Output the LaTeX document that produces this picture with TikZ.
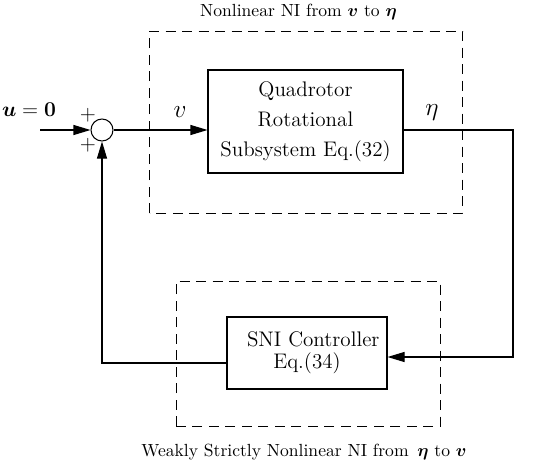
\documentclass[tikz,border=0pt]{standalone}
\usepackage{amsmath}
\usepackage{amssymb}
\usepackage{bm}
\usepackage{tikz}
\usetikzlibrary{arrows.meta}

\begin{document}
\begin{tikzpicture}[line width=0.6pt,
            blockbox/.style={draw, align=center, font=\large, inner sep=0pt},
            ghostbox/.style={draw, dash pattern=on 2mm off 1.3mm, line width=0.5pt},
            sig/.style={-{Triangle[length=3.4mm,width=2mm]}}]
            \useasboundingbox (0,0) rectangle (11,9.34);
            % blocks
            \node[draw, circle, minimum size=0.44cm, inner sep=0pt] (sum) at (2.04,6.74) {};
            \node[blockbox, minimum width=3.9cm, minimum height=2.06cm] (quad) at (6.11,6.91) {Quadrotor\\[3pt] Rotational\\[3pt] Subsystem Eq.(32)};
            \node[blockbox, minimum width=3.2cm, minimum height=1.44cm] (ctrl) at (6.14,2.28) {\hspace{0.25cm}SNI Controller\\[-1.5pt] Eq.(34)};
            % dashed frames
            \draw[ghostbox] (2.99,5.08) rectangle (9.25,8.72);
            \draw[ghostbox] (3.52,0.82) rectangle (8.8,3.72);
            \node (nitop) at (5.97,9.1) {Nonlinear NI from $\bm{v}$ to $\bm{\eta}$};
            \node (nibot) at (6.08,0.3) {Weakly Strictly Nonlinear NI from\, $\bm{\eta}$ to $\bm{v}$};
            % signals
            \coordinate (in) at (0.8,6.74);
            \coordinate (back) at (10.26,2.2);
            \coordinate (fb) at (2.04,2.08);
            \draw[sig] (in) -- (sum.west);
            \draw[sig] (sum.east) -- (sum -| quad.west);
            \draw[sig] (sum -| quad.east) -| (back) -- (back -| ctrl.east);
            \draw[sig] (ctrl.west |- fb) -- (fb) -- (sum.south);
            % labels
            \node[font=\large] (ulab) at (0.58,7.14) {$\bm{u}=\mathbf{0}$};
            \node[font=\Large] (vlab) at (3.6,7.1) {$v$};
            \node[font=\Large] (etalab) at (8.64,7.08) {$\eta$};
            \node[font=\large] (p1) at (1.76,7.04) {$+$};
            \node[font=\large] (p2) at (1.76,6.44) {$+$};
        \end{tikzpicture}
\end{document}
